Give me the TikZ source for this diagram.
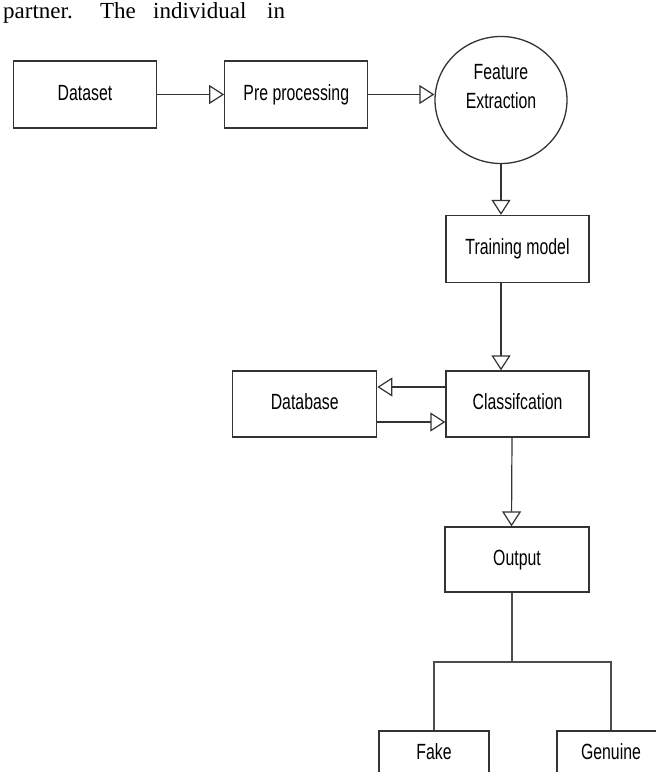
\documentclass[tikz,border=0pt]{standalone}
\usepackage{fontspec}
\setmainfont{Liberation Serif}
\newfontfamily\boxfont[FakeStretch=0.72]{Liberation Sans}
\usetikzlibrary{shapes.geometric, arrows.meta, positioning}

\tikzset{
  block/.style={rectangle, draw=black!80, line width=1.3pt, minimum width=143pt, minimum height=67pt, inner sep=0pt, text height=16pt, text depth=5pt, font=\boxfont\fontsize{22}{29}\selectfont},
  flow/.style={draw=black!80, line width=1.2pt, -{Triangle[open, length=15pt, width=19pt]}},
  link/.style={draw=black!70, line width=1.2pt}
}

\begin{document}
\begin{tikzpicture}[x=1pt, y=-1pt]
        \path[use as bounding box, clip] (0,0) rectangle (656,772);

        % Page text above the figure
        \node[anchor=base west, inner sep=0pt, font=\fontsize{23}{27}\selectfont] (pagetext) at (3,18) {\makebox[97pt][l]{partner.}\makebox[53pt][l]{The}\makebox[114pt][l]{individual}in};

        % Top row
        \node[block] (dataset) at (85,94.5) {Dataset};
        \node[block, right=67pt of dataset] (prep) {Pre processing};
        \node[ellipse, draw=black!80, line width=1.3pt, minimum width=132pt, minimum height=127pt, align=center, text depth=27pt, font=\boxfont\fontsize{22}{29}\selectfont] (feature) at (501,100) {Feature\\Extraction};

        % Main column
        \node[block] (train) at (517.5,249) {Training model};
        \node[block, minimum height=66pt] (classif) at (517.5,404) {Classifcation};
        \node[block, minimum width=144pt, minimum height=66pt, left=68pt of classif] (database) {Database};
        \node[block, minimum width=144pt, minimum height=65pt] (output) at (517,559.5) {Output};

        % Results
        \node[block, minimum width=110pt, minimum height=46pt] (fake) at (434,754) {Fake};
        \node[block, minimum width=108pt, minimum height=46pt] (genuine) at (611,754) {Genuine};
        \coordinate (split) at (512,662);

        % Connections
        \draw[flow] (dataset) -- (prep);
        \draw[flow] (prep.east) -- (prep.east -| feature.west);
        \draw[flow] (feature.south) -- (feature.south |- train.north);
        \draw[flow] (feature.south |- train.south) -- (feature.south |- classif.north);
        \draw[flow] ([yshift=17pt]classif.west) -- ([yshift=17pt]database.east);
        \draw[flow] ([yshift=-18pt]database.east) -- ([yshift=-18pt]classif.west);
        \draw[flow] ([xshift=-5.5pt]classif.south) -- ([xshift=-5.5pt]output.north);
        \draw[link] ([xshift=-5pt]output.south) -- (split);
        \draw[link] (fake.north) |- (split) -| (genuine.north);
\end{tikzpicture}
\end{document}
